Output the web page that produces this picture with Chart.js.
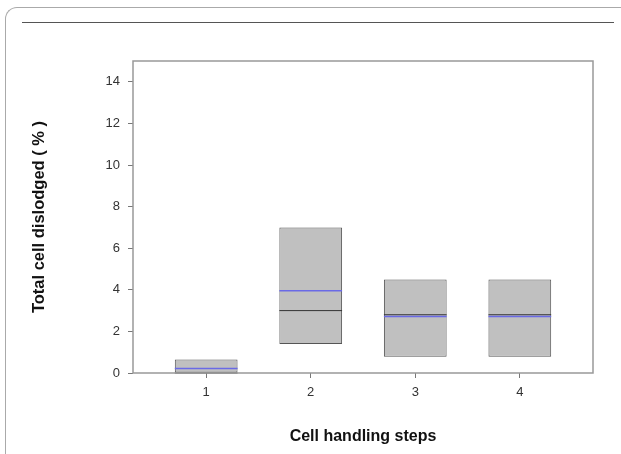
<!DOCTYPE html>
<html>
<head>
<meta charset="utf-8">
<script src="https://cdn.jsdelivr.net/npm/chart.js@4"></script>
<style>
    body { margin: 0; background: #fff; width: 621px; height: 454px; overflow: hidden; position: relative; }
    .frame { position: absolute; left: 5px; top: 7px; width: 700px; height: 500px;
             border-left: 1.5px solid #aaa; border-top: 1.5px solid #aaa; border-top-left-radius: 12px; }
    .rule { position: absolute; left: 22px; top: 22px; width: 592px; height: 1px; background: #555; }
    #wrap { position: absolute; left: 0; top: 0; width: 621px; height: 454px; }
</style>
</head>
<body>
<div class="frame"></div>
<div class="rule"></div>
<div id="wrap"><canvas id="boxChart"></canvas></div>
<script>
const steps = [1, 2, 3, 4];
const boxLow = [0, 1.4, 0.78, 0.78];
const boxHigh = [0.65, 7.0, 4.5, 4.5];
const medians = [0, 3.0, 2.8, 2.8];
const means = [0.22, 3.96, 2.72, 2.72];
const yTicks = [0, 2, 4, 6, 8, 10, 12, 14];

const tickFont = { family: 'Liberation Sans, Arial, sans-serif', size: 13 };
const xTitleFont = { family: 'Liberation Sans, Arial, sans-serif', size: 16, weight: 'bold' };
const yTitleFont = { family: 'Liberation Sans, Arial, sans-serif', size: 16.5, weight: 'bold' };

// draws median (black) and mean (blue) lines across each box, plus the plot frame
const boxLines = {
    id: 'boxLines',
    afterDatasetsDraw(chart) {
        const c = chart.ctx;
        const yScale = chart.scales.y;
        const bars = chart.getDatasetMeta(0).data;
        c.save();
        bars.forEach((bar, i) => {
            const half = bar.width / 2;
            c.lineWidth = 1;
            c.strokeStyle = '#333';
            let y = yScale.getPixelForValue(medians[i]);
            c.beginPath();
            c.moveTo(bar.x - half, y);
            c.lineTo(bar.x + half, y);
            c.stroke();
            c.lineWidth = 1.5;
            c.strokeStyle = '#6a6ae6';
            y = yScale.getPixelForValue(means[i]);
            c.beginPath();
            c.moveTo(bar.x - half, y);
            c.lineTo(bar.x + half, y);
            c.stroke();
        });
        const a = chart.chartArea;
        c.lineWidth = 1.5;
        c.strokeStyle = '#999';
        c.strokeRect(a.left, a.top, a.right - a.left, a.bottom - a.top);
        c.restore();
    }
};

new Chart(document.getElementById('boxChart').getContext('2d'), {
    type: 'bar',
    data: {
        datasets: [{
            data: steps.map((s, i) => ({ x: s, y: [boxLow[i], boxHigh[i]] })),
            backgroundColor: '#c0c0c0',
            borderColor: '#555',
            borderWidth: 1,
            borderSkipped: false,
            categoryPercentage: 0.6,
            barPercentage: 1
        }]
    },
    options: {
        responsive: true,
        maintainAspectRatio: false,
        animation: false,
        layout: { padding: { top: 61, right: 28, left: 22, bottom: 0 } },
        plugins: { legend: { display: false }, tooltip: { enabled: false } },
        scales: {
            x: {
                type: 'linear',
                min: 0.3,
                max: 4.7,
                offset: false,
                grid: { offset: false, drawOnChartArea: false, tickLength: 5, color: '#777' },
                border: { display: false },
                afterBuildTicks: scale => { scale.ticks = steps.map(v => ({ value: v })); },
                afterFit: scale => { scale.height = 81; },
                ticks: { font: tickFont, color: '#333', padding: 7, maxRotation: 0, callback: v => String(v) },
                title: { display: true, text: 'Cell handling steps', font: xTitleFont, color: '#111', padding: { top: 0, bottom: 8 } }
            },
            y: {
                min: 0,
                max: 15,
                grid: { drawOnChartArea: false, tickLength: 5, color: '#777' },
                border: { display: false },
                afterBuildTicks: scale => { scale.ticks = yTicks.map(v => ({ value: v })); },
                afterFit: scale => { scale.width = 111; },
                ticks: { font: tickFont, color: '#333', padding: 8, callback: v => String(v) },
                title: { display: true, text: 'Total cell dislodged ( % )', font: yTitleFont, color: '#111', padding: { top: 8, bottom: 0 } }
            }
        }
    },
    plugins: [boxLines]
});
</script>
</body>
</html>
